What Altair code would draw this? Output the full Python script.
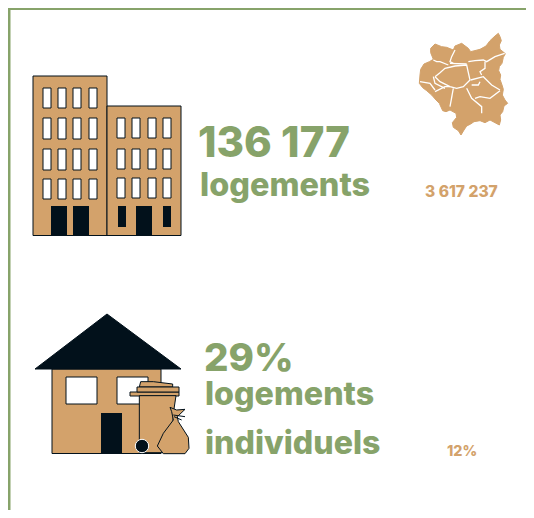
import altair as alt
import pandas as pd

GREEN = "#87a36a"
TAN = "#d3a26b"
DARK = "#02111b"

# text
text_labels = ["136 177", "logements", "3 617 237", "29%", "logements", "individuels", "12%"]
text_x = [198, 200, 425, 204, 205, 205, 447]
text_y = [157, 196, 197, 371, 405, 454, 456]
text_size = [42, 32.4, 15.6, 38.5, 32.2, 32.1, 14.3]
text_color = [GREEN, GREEN, TAN, GREEN, GREEN, GREEN, TAN]

# rectangles: x0, x1, y0, y1
tan_rects = [(33, 107, 76, 235.5), (107, 181, 106, 235.5), (52, 161, 369, 453.5)]
win_x_left = [(43, 51), (58, 66), (73, 81), (89, 97)]
win_y_left = [(88, 108), (118, 139), (149, 170), (179, 199)]
win_x_right = [(117, 125), (132, 140), (148, 156), (163, 171)]
win_y_right = [(118, 138), (149, 169), (178, 198)]
house_windows = [(66, 97, 377, 404), (117, 148, 377, 404)]
dark_rects = [(51, 67, 206, 235), (73, 89, 206, 235), (118, 126, 206, 227),
              (136, 152, 206, 235), (163, 171, 206, 227), (101, 122, 413, 453)]
lid_rects = [(130, 179, 392, 396), (137, 179, 387, 392)]

def z2(p):
    return [(400 + x / 3, 20 + y / 3) for x, y in p]

def z3(p):
    return [(20 + x / 3, 300 + y / 3) for x, y in p]

roof = [(107, 314), (181, 369), (35, 369), (107, 314)]
bin_body = z3([(358, 287), (468, 287), (460, 340), (455, 458), (358, 458), (358, 287)])
bin_top = z3([(358, 261), (362, 245), (400, 245), (458, 252), (458, 261), (358, 261)])
bag = z3([(450, 322), (470, 330), (495, 328), (472, 350), (475, 365), (505, 412), (507, 445),
          (495, 461), (430, 461), (412, 438), (430, 400), (460, 360), (455, 335), (450, 322)])
bag_ties = [z3([(460, 345), (495, 350)]), z3([(462, 350), (485, 360)])]
wheel_x, wheel_y = [142], [446]

map_outline = z2([(295, 40), (300, 50), (304, 62), (298, 75), (300, 88), (316, 101), (310, 112),
                  (306, 130), (298, 140), (296, 152), (302, 165), (300, 178), (306, 195), (310, 208),
                  (307, 225), (315, 240), (323, 250), (312, 258), (308, 275), (300, 285), (302, 300),
                  (298, 315), (285, 308), (270, 300), (255, 308), (240, 302), (222, 305), (212, 312),
                  (200, 318), (192, 330), (183, 345), (175, 332), (160, 322), (157, 308), (170, 292),
                  (168, 280), (150, 270), (138, 275), (128, 272), (118, 250), (108, 240), (95, 225),
                  (80, 212), (68, 203), (58, 190), (60, 165), (62, 148), (72, 132), (88, 125),
                  (100, 118), (92, 98), (92, 85), (105, 72), (125, 80), (140, 82), (160, 90),
                  (165, 78), (185, 70), (205, 85), (212, 95), (240, 88), (258, 78), (270, 62),
                  (285, 48), (295, 40)])
map_borders = [z2(p) for p in [
    [(105, 170), (120, 158), (135, 145), (165, 138), (200, 135), (205, 158), (210, 180), (190, 200),
     (170, 205), (150, 200), (120, 185), (105, 170)],
    [(150, 130), (200, 132)],
    [(165, 90), (155, 110), (150, 125), (160, 130)],
    [(100, 120), (110, 125), (120, 125), (145, 135)],
    [(205, 125), (225, 122), (250, 120), (260, 125), (285, 110), (314, 100)],
    [(255, 125), (255, 145), (240, 155), (245, 165)],
    [(212, 180), (250, 170), (275, 195), (300, 210)],
    [(215, 195), (235, 195), (240, 185)],
    [(200, 205), (215, 235), (245, 260), (245, 280)],
    [(225, 235), (240, 230), (270, 235), (300, 212)],
    [(60, 185), (90, 190), (105, 210)],
    [(105, 215), (135, 200), (150, 200)],
    [(160, 205), (150, 260)],
    [(100, 170), (105, 190), (135, 205)],
]]
frame_h = [(8, 526, 9)]
frame_v = [(9.25, 8, 510)]

X = alt.Scale(domain=[8, 526], nice=False, zero=False)
Y = alt.Scale(domain=[8, 510], reverse=True, nice=False, zero=False)
ex = alt.X("x:Q", scale=X, axis=None)
ey = alt.Y("y:Q", scale=Y, axis=None)

def rects(rows, **kw):
    df = pd.DataFrame(rows, columns=["x", "x2", "y", "y2"])
    return alt.Chart(df).mark_rect(**kw).encode(ex, alt.X2("x2:Q"), ey, alt.Y2("y2:Q"))

def poly(points, **kw):
    df = pd.DataFrame(points, columns=["x", "y"]).assign(i=range(len(points)))
    return alt.Chart(df).mark_line(**kw).encode(ex, ey, order="i:Q")

windows = [(a, b, c, d) for a, b in win_x_left for c, d in win_y_left] + \
          [(a, b, c, d) for a, b in win_x_right for c, d in win_y_right]

layers = [
    rects([(f[0], f[1], f[2] - 1, f[2] + 1) for f in frame_h], color=GREEN),
    rects([(f[0] - 1.25, f[0] + 1.25, f[1], f[2]) for f in frame_v], color=GREEN),
    rects(tan_rects, fill=TAN, stroke=DARK, strokeWidth=1),
    rects(windows + house_windows, fill="white", stroke=DARK, strokeWidth=1),
    rects(dark_rects, color=DARK),
    poly(roof, fill=DARK, stroke=DARK, strokeWidth=1),
    poly(bin_top, fill=TAN, stroke=DARK, strokeWidth=1),
    rects(lid_rects, fill=TAN, stroke=DARK, strokeWidth=1),
    poly(bin_body, fill=TAN, stroke=DARK, strokeWidth=1),
    poly(bag, fill=TAN, stroke=DARK, strokeWidth=1),
]
layers += [poly(t, stroke=DARK, strokeWidth=1) for t in bag_ties]
layers.append(
    alt.Chart(pd.DataFrame({"x": wheel_x, "y": wheel_y})).mark_point(
        filled=True, fill=DARK, stroke="white", strokeWidth=1, size=180, opacity=1
    ).encode(ex, ey)
)
layers.append(poly(map_outline, fill=TAN, stroke=TAN, strokeWidth=1))
layers += [poly(b, stroke="white", strokeWidth=1.3) for b in map_borders]

texts = pd.DataFrame({"t": text_labels, "x": text_x, "y": text_y, "s": text_size, "c": text_color})
layers.append(
    alt.Chart(texts).mark_text(align="left", baseline="alphabetic", font="Inter", fontWeight=800).encode(
        ex, ey, text="t:N",
        size=alt.Size("s:Q", scale=None, legend=None),
        color=alt.Color("c:N", scale=None, legend=None),
    )
)

chart = alt.layer(*layers).properties(
    width=518, height=502, background="white",
    padding=0, autosize=alt.AutoSizeParams(type="none"),
).configure_view(stroke=None)
chart.save("out.html", embed_options={"renderer": "svg", "actions": False})
